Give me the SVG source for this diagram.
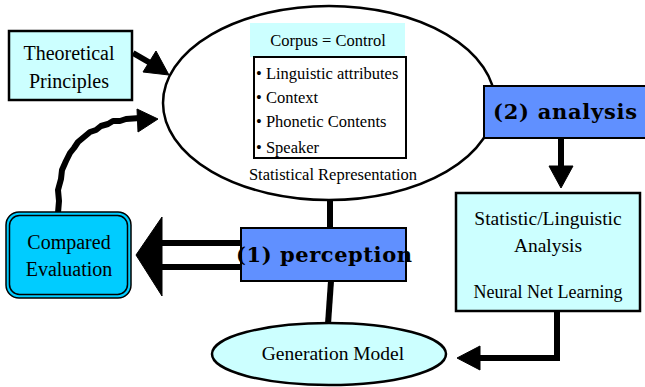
<svg xmlns="http://www.w3.org/2000/svg" width="645" height="387" viewBox="0 0 645 387">
  <style>
    .txt { font-family: "Liberation Serif", "Times New Roman", serif; fill: #000; text-anchor: middle; }
    .bold { font-family: "DejaVu Serif", "Liberation Serif", serif; font-weight: bold; fill: #000; text-anchor: middle; }
    .pale { fill: #ccffff; stroke: #000; stroke-width: 2.5; }
    .step { fill: #6090ff; stroke: #000; stroke-width: 2; }
    .wire { fill: none; stroke: #000; stroke-width: 6; }
    .head { fill: #000; stroke: #000; stroke-width: 1; stroke-linejoin: miter; }
  </style>

  <!-- central representation -->
  <g id="statistical-representation">
    <ellipse cx="329" cy="103" rx="166" ry="97" fill="#fff" stroke="#000" stroke-width="2.5"/>
    <rect x="250" y="23" width="155" height="34" fill="#ccffff"/>
    <text class="txt" x="328" y="46" font-size="16.5">Corpus = Control</text>
    <rect x="254" y="57" width="152" height="101" fill="#fff" stroke="#000" stroke-width="2"/>
    <g class="txt" font-size="16.5" style="text-anchor:start">
      <text x="256" y="79">• Linguistic attributes</text>
      <text x="256" y="103">• Context</text>
      <text x="256" y="127">• Phonetic Contents</text>
      <text x="256" y="153">• Speaker</text>
    </g>
    <text class="txt" x="333" y="180" font-size="16.5">Statistical Representation</text>
  </g>

  <g id="theoretical-principles">
    <rect class="pale" x="9" y="31" width="123" height="69"/>
    <text class="txt" x="69" y="60" font-size="20">Theoretical</text>
    <text class="txt" x="69" y="88" font-size="20">Principles</text>
  </g>

  <!-- connectors -->
  <g id="connectors">
    <!-- principles into representation -->
    <path class="wire" d="M133,53 L152,64"/>
    <polygon class="head" points="169,75 143,72 156,51"/>
    <!-- feedback from evaluation, hand-drawn wobble -->
    <path class="wire" stroke-linejoin="round" d="M58,213 L59,201 L58,190 L61,179 L62,170 L66,161 L70,153 L74,148 L78,142 L84,137 L90,132 L96,130 L101,126 L108,124 L113,121 L120,121 L126,119 L140,118"/>
    <polygon class="head" points="158,119 137,109 138,132"/>
    <!-- representation down to perception -->
    <path class="wire" d="M330,199 L330,229"/>
    <!-- perception down to generation model -->
    <path class="wire" d="M331,281 L328,324"/>
    <!-- double arrow to evaluation -->
    <path class="wire" d="M241,243 L158,243 M241,267 L158,267"/>
    <polygon class="head" points="136,255 162,217 162,296"/>
    <!-- analysis down to statistic box -->
    <path class="wire" d="M561,137 L561,168"/>
    <polygon class="head" points="561,188 549,166 573,166"/>
    <!-- statistic box to generation model -->
    <path class="wire" d="M557,310 L557,358 L476,358"/>
    <polygon class="head" points="457,358 480,346 480,370"/>
  </g>

  <g id="analysis">
    <rect class="step" x="484" y="86" width="166" height="52"/>
    <text class="bold" x="565" y="119" font-size="21" textLength="144">(2) analysis</text>
  </g>

  <g id="statistic-linguistic-analysis">
    <rect class="pale" x="456" y="193" width="184" height="118"/>
    <text class="txt" x="548" y="225" font-size="19.5">Statistic/Linguistic</text>
    <text class="txt" x="548" y="252" font-size="19.5">Analysis</text>
    <text class="txt" x="548" y="298" font-size="18">Neural Net Learning</text>
  </g>

  <g id="perception">
    <rect class="step" x="241" y="228" width="165" height="53"/>
    <text class="bold" x="324" y="262" font-size="21" textLength="176">(1) perception</text>
  </g>

  <g id="compared-evaluation">
    <rect x="6" y="212" width="125" height="86" rx="13" fill="#00ccff" stroke="#000" stroke-width="1.5"/>
    <rect x="9.5" y="215.5" width="118" height="79" rx="10" fill="#00ccff" stroke="#000" stroke-width="1.5"/>
    <text class="txt" x="69" y="249" font-size="20">Compared</text>
    <text class="txt" x="69" y="276" font-size="20">Evaluation</text>
  </g>

  <g id="generation-model">
    <ellipse cx="329" cy="354" rx="117" ry="31" fill="#ccffff" stroke="#000" stroke-width="2.5"/>
    <text class="txt" x="333" y="360" font-size="19.5">Generation Model</text>
  </g>
</svg>
